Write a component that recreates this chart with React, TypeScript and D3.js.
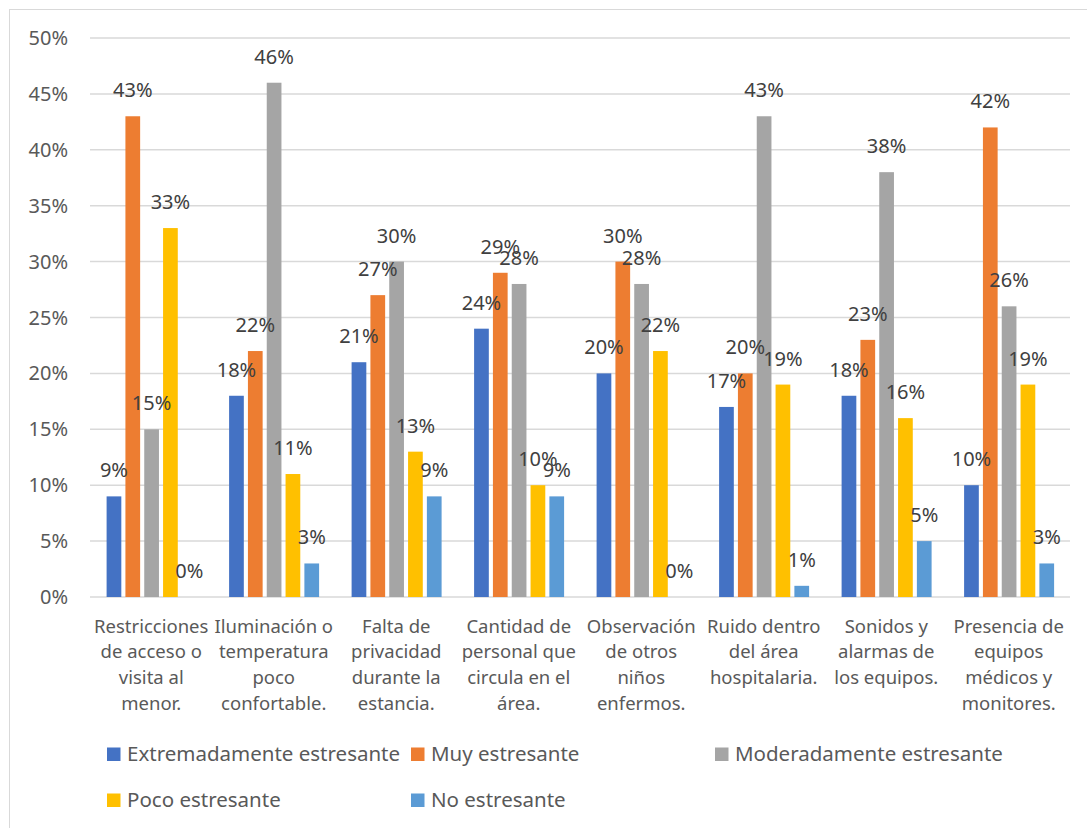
import React from "react";
import * as d3 from "d3";

const categories: string[][] = [
  ["Restricciones", "de acceso o", "visita al", "menor."],
  ["Iluminación o", "temperatura", "poco", "confortable."],
  ["Falta de", "privacidad", "durante la", "estancia."],
  ["Cantidad de", "personal que", "circula en el", "área."],
  ["Observación", "de otros", "niños", "enfermos."],
  ["Ruido dentro", "del área", "hospitalaria."],
  ["Sonidos y", "alarmas de", "los equipos."],
  ["Presencia de", "equipos", "médicos y", "monitores."],
];

const seriesNames = [
  "Extremadamente estresante",
  "Muy estresante",
  "Moderadamente estresante",
  "Poco estresante",
  "No estresante",
];

const extremadamente = [9, 18, 21, 24, 20, 17, 18, 10];
const muy = [43, 22, 27, 29, 30, 20, 23, 42];
const moderadamente = [15, 46, 30, 28, 28, 43, 38, 26];
const poco = [33, 11, 13, 10, 22, 19, 16, 19];
const noEstresante = [0, 3, 9, 9, 0, 1, 5, 3];

const seriesValues = [extremadamente, muy, moderadamente, poco, noEstresante];
const colors = ["#4472C4", "#ED7D31", "#A5A5A5", "#FFC000", "#5B9BD5"];
const yTicks = [0, 5, 10, 15, 20, 25, 30, 35, 40, 45, 50];

const FONT = "'Noto Sans', sans-serif";

export default function App() {
  const W = 1087;
  const H = 828;
  const x = d3
    .scaleBand<number>()
    .domain(d3.range(categories.length))
    .range([90, 1070]);
  const xi = d3
    .scaleBand<number>()
    .domain(d3.range(seriesNames.length))
    .range([16.6, 106.6])
    .paddingInner(0.218);
  const y = d3.scaleLinear().domain([0, 50]).range([597, 38]);

  const legendPos = [
    { x: 107, y: 754 },
    { x: 411, y: 754 },
    { x: 715, y: 754 },
    { x: 107, y: 800 },
    { x: 411, y: 800 },
  ];

  return (
    <svg
      width={W}
      height={H}
      style={{ position: "absolute", left: 0, top: 0, background: "#fff" }}
      fontFamily={FONT}
    >
      <rect x={9.5} y={9.5} width={1100} height={900} fill="#fff" stroke="#D9D9D9" />
      {yTicks.map((t) => (
        <g key={t}>
          <line
            x1={90}
            x2={1070}
            y1={y(t)}
            y2={y(t)}
            stroke="#D9D9D9"
            strokeWidth={1.5}
          />
          <text
            x={68}
            y={y(t) + 7}
            textAnchor="end"
            fontSize={20}
            fill="#595959"
          >
            {t}%
          </text>
        </g>
      ))}
      {seriesValues.map((vals, si) =>
        vals.map((v, ci) => (
          <rect
            key={`${si}-${ci}`}
            x={(x(ci) as number) + (xi(si) as number)}
            y={y(v)}
            width={xi.bandwidth()}
            height={y(0) - y(v)}
            fill={colors[si]}
          />
        ))
      )}
      {seriesValues.map((vals, si) =>
        vals.map((v, ci) => (
          <text
            key={`l-${si}-${ci}`}
            x={(x(ci) as number) + (xi(si) as number) + xi.bandwidth() / 2}
            y={y(v) - 19}
            textAnchor="middle"
            fontSize={20}
            fill="#404040"
          >
            {v}%
          </text>
        ))
      )}
      {categories.map((lines, ci) => (
        <text
          key={`c-${ci}`}
          textAnchor="middle"
          fontSize={18.5}
          fill="#595959"
        >
          {lines.map((ln, li) => (
            <tspan
              key={li}
              x={(x(ci) as number) + x.bandwidth() / 2}
              y={632.5 + li * 25.7}
            >
              {ln}
            </tspan>
          ))}
        </text>
      ))}
      {seriesNames.map((name, si) => (
        <g key={`lg-${si}`}>
          <rect
            x={legendPos[si].x}
            y={legendPos[si].y - 6.5}
            width={13.5}
            height={13.5}
            fill={colors[si]}
          />
          <text
            x={legendPos[si].x + 20}
            y={legendPos[si].y + 7.3}
            fontSize={20.5}
            fill="#595959"
          >
            {name}
          </text>
        </g>
      ))}
    </svg>
  );
}
